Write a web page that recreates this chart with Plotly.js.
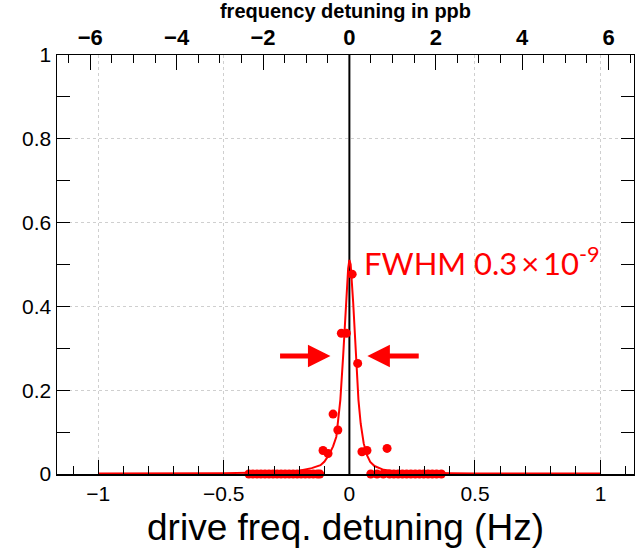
<!DOCTYPE html>
<html>
<head>
<meta charset="utf-8">
<script src="https://cdn.plot.ly/plotly-3.0.1.min.js"></script>
<style>html,body{margin:0;padding:0;background:#fff;}#chart{width:635px;height:555px;}</style>
</head>
<body>
<div id="chart"></div>
<script>
// Measured points: drive frequency detuning (Hz) and signal
const measX = [-0.400, -0.384, -0.368, -0.352, -0.336, -0.320, -0.304, -0.288, -0.272, -0.256,
               -0.240, -0.224, -0.208, -0.192, -0.176, -0.160, -0.144, -0.128, -0.118,
               -0.105, -0.085, -0.065, -0.046, -0.032, -0.012, 0.011, 0.033, 0.050, 0.070,
               0.085, 0.110, 0.135, 0.150,
               0.160, 0.177, 0.194, 0.211, 0.228, 0.245, 0.262, 0.279, 0.296, 0.313, 0.330, 0.347, 0.366];
const measY = [0, 0, 0, 0, 0, 0, 0, 0, 0, 0,
               0, 0, 0, 0, 0, 0, 0, 0, 0,
               0.056, 0.049, 0.143, 0.105, 0.336, 0.336, 0.477, 0.264, 0.053, 0.056,
               0, 0, 0, 0.061,
               0, 0, 0, 0, 0, 0, 0, 0, 0, 0, 0, 0, 0];

// Fitted line
const fitX = [-1, -0.7, -0.5, -0.4, -0.3, -0.2, -0.15, -0.115, -0.1, -0.082, -0.065, -0.052, -0.036,
              -0.025, -0.015, -0.005, 0, 0.005, 0.015, 0.025, 0.036, 0.045, 0.057, 0.07, 0.083,
              0.1, 0.136, 0.2, 0.3, 0.4, 0.5, 0.7, 1];
const fitY = [0.001, 0.001, 0.002, 0.003, 0.004, 0.008, 0.014, 0.021, 0.029, 0.045, 0.066, 0.089, 0.177,
              0.28, 0.40, 0.49, 0.511, 0.50, 0.41, 0.29, 0.177, 0.12, 0.073, 0.045, 0.029,
              0.019, 0.010, 0.005, 0.003, 0.002, 0.001, 0.001, 0.001];

// Zero-detuning marker line
const zeroX = [0, 0];
const zeroY = [0, 1];

// Axis ticks
const hzTicks = [-1, -0.5, 0, 0.5, 1];
const hzLabels = ['\u22121', '\u22120.5', '0', '0.5', '1'];
const ppbTicks = [-6, -4, -2, 0, 2, 4, 6];
const ppbLabels = ['\u22126', '\u22124', '\u22122', '0', '2', '4', '6'];
const yTicks = [0, 0.2, 0.4, 0.6, 0.8, 1];
const yLabels = ['0', '0.2', '0.4', '0.6', '0.8', '1'];

const hzToPpb = 5.815;
const hzRange = [-1.164, 1.133];

const FONT = 'Liberation Sans, Arial, sans-serif';

const traces = [
  {x: zeroX, y: zeroY, mode: 'lines', line: {color: '#000', width: 2}, hoverinfo: 'skip', showlegend: false},
  {x: fitX, y: fitY, mode: 'lines', line: {color: '#ff0000', width: 2}, hoverinfo: 'skip', showlegend: false},
  {x: measX, y: measY, mode: 'markers', marker: {color: '#ff0000', size: 9}, cliponaxis: false, showlegend: false},
  {x: [0], y: [null], xaxis: 'x2', mode: 'markers', showlegend: false, hoverinfo: 'skip'}
];

const layout = {
  width: 635, height: 555,
  margin: {l: 57, r: 1, t: 55, b: 81},
  paper_bgcolor: '#fff', plot_bgcolor: '#fff',
  showlegend: false,
  font: {family: FONT, color: '#000', size: 21},
  xaxis: {
    range: hzRange,
    tickmode: 'array', tickvals: hzTicks, ticktext: hzLabels,
    ticks: 'inside', ticklen: 14, tickwidth: 1, tickcolor: '#000',
    showline: true, linecolor: '#000', linewidth: 1.5,
    showgrid: true, gridcolor: '#cfcfcf', griddash: 'dot', gridwidth: 1,
    zeroline: false,
    tickfont: {family: FONT, size: 21, color: '#000'},
    minor: {dtick: 0.1, tick0: 0, ticks: 'inside', ticklen: 8, tickcolor: '#000', tickwidth: 1, showgrid: false},
    title: {text: 'drive freq. detuning (Hz)', font: {family: FONT, size: 37, color: '#000'}, standoff: 10}
  },
  xaxis2: {
    overlaying: 'x', side: 'top', anchor: 'y',
    range: [hzRange[0] * hzToPpb, hzRange[1] * hzToPpb],
    tickmode: 'array', tickvals: ppbTicks, ticktext: ppbLabels,
    ticks: 'inside', ticklen: 15, tickwidth: 1, tickcolor: '#000',
    showline: true, linecolor: '#000', linewidth: 1.5,
    showgrid: false, zeroline: false,
    tickfont: {family: FONT, size: 22, color: '#000', weight: 'bold'},
    minor: {dtick: 0.5, tick0: 0, ticks: 'inside', ticklen: 8, tickcolor: '#000', tickwidth: 1, showgrid: false},
    title: {text: 'frequency detuning in ppb', font: {family: FONT, size: 20, color: '#000', weight: 'bold'}, standoff: 0}
  },
  yaxis: {
    range: [0, 1],
    tickmode: 'array', tickvals: yTicks, ticktext: yLabels,
    ticks: 'inside', ticklen: 13, tickwidth: 1, tickcolor: '#000',
    showline: true, linecolor: '#000', linewidth: 1.5, mirror: 'allticks',
    showgrid: true, gridcolor: '#cfcfcf', griddash: 'dot', gridwidth: 1,
    zeroline: false,
    tickfont: {family: FONT, size: 21, color: '#000'},
    minor: {dtick: 0.1, tick0: 0, ticks: 'inside', ticklen: 7, tickcolor: '#000', tickwidth: 1, showgrid: false}
  },
  annotations: [
    {x: 0.052, y: 0.506, xref: 'x', yref: 'y', xanchor: 'left', yanchor: 'middle',
     text: 'FWHM 0.3\u2009\u00d7\u200910<sup>-9</sup>', showarrow: false,
     font: {family: 'Lato, Open Sans, sans-serif', size: 31, color: '#ff0000'}},
    {x: -0.0755, y: 0.2816, ax: -0.282, ay: 0.2816, xref: 'x', yref: 'y', axref: 'x', ayref: 'y',
     text: '', showarrow: true, arrowhead: 2, arrowsize: 0.9, arrowwidth: 5, arrowcolor: '#ff0000'},
    {x: 0.0716, y: 0.2816, ax: 0.282, ay: 0.2816, xref: 'x', yref: 'y', axref: 'x', ayref: 'y',
     text: '', showarrow: true, arrowhead: 2, arrowsize: 0.9, arrowwidth: 5, arrowcolor: '#ff0000'}
  ]
};

Plotly.newPlot('chart', traces, layout, {staticPlot: true, displayModeBar: false});
</script>
</body>
</html>
